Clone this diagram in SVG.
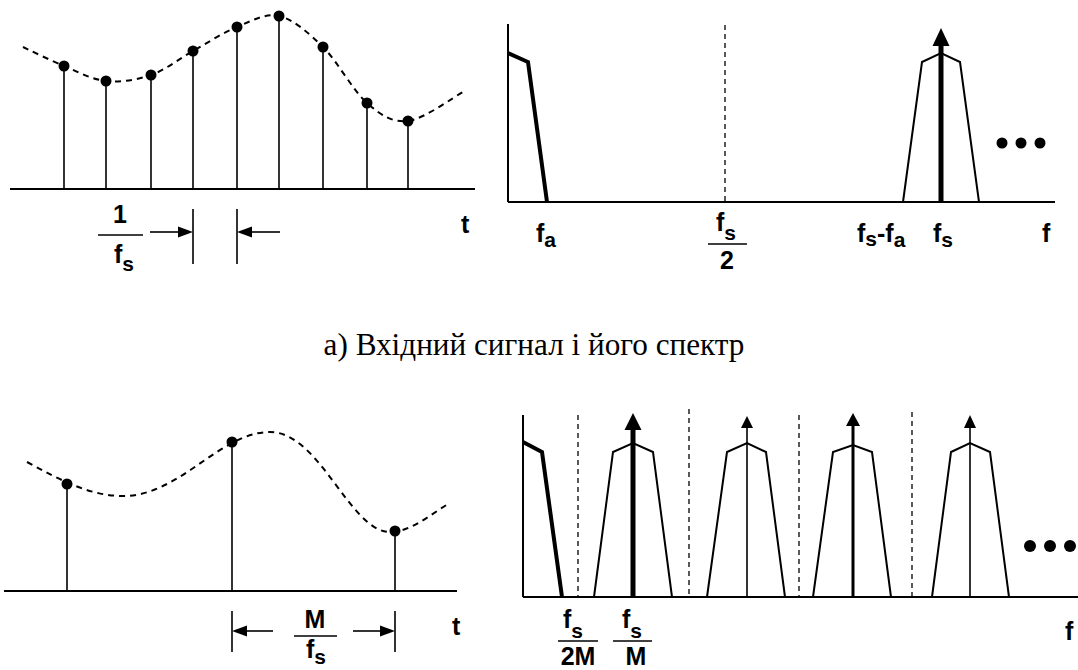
<svg xmlns="http://www.w3.org/2000/svg" width="1078" height="670" viewBox="0 0 1078 670">
<style>
.ax{stroke:#000;stroke-width:2;fill:none}
.stem{stroke:#000;stroke-width:1.6;fill:none}
.curve{stroke:#000;stroke-width:2;fill:none;stroke-dasharray:6 5}
.dash{stroke:#000;stroke-width:1.3;fill:none;stroke-dasharray:5 4}
.img{stroke:#000;stroke-width:2;fill:none;stroke-linejoin:miter}
.bb{stroke:#000;stroke-width:4;fill:none}
.lbl{font-family:"Liberation Sans",Arial,sans-serif;font-weight:bold;font-size:25px;fill:#000}
.sub{font-size:21px}
.cap{font-family:"Liberation Serif","Times New Roman",serif;font-size:31.2px;fill:#000}
</style>
<rect width="1078" height="670" fill="#fff"/>

<g id="input-signal">
<line class="ax" x1="10" y1="189" x2="475" y2="189"/>
<path class="curve" d="M23,47 C29.8,50.2 50.2,60.3 64,66 C77.8,71.7 91.5,79.5 106,81 C120.5,82.5 136.5,80 151,75 C165.5,70 178.7,59 193,51 C207.3,43 222.7,32.8 237,27 C251.3,21.2 264.7,12.7 279,16 C293.3,19.3 308.3,32.5 323,47 C337.7,61.5 352.8,90.7 367,103 C381.2,115.3 392,122.8 408,121 C424,119.2 453.8,96.8 463,92"/>
<g class="stem">
<line x1="64" y1="189" x2="64" y2="66"/>
<line x1="106" y1="189" x2="106" y2="81"/>
<line x1="151" y1="189" x2="151" y2="75"/>
<line x1="193" y1="189" x2="193" y2="51"/>
<line x1="237" y1="189" x2="237" y2="27"/>
<line x1="279" y1="189" x2="279" y2="16"/>
<line x1="323" y1="189" x2="323" y2="47"/>
<line x1="367" y1="189" x2="367" y2="103"/>
<line x1="408" y1="189" x2="408" y2="121"/>
</g>
<g fill="#000">
<circle cx="64" cy="66" r="5.5"/>
<circle cx="106" cy="81" r="5.5"/>
<circle cx="151" cy="75" r="5.5"/>
<circle cx="193" cy="51" r="5.5"/>
<circle cx="237" cy="27" r="5.5"/>
<circle cx="279" cy="16" r="5.5"/>
<circle cx="323" cy="47" r="5.5"/>
<circle cx="367" cy="103" r="5.5"/>
<circle cx="408" cy="121" r="5.5"/>
</g>
</g>

<g id="input-period">
<line class="stem" x1="193" y1="209" x2="193" y2="264"/>
<line class="stem" x1="237" y1="209" x2="237" y2="264"/>
<line class="stem" x1="150" y1="232" x2="180" y2="232"/>
<polygon points="193,232 178,226.5 178,237.5" fill="#000"/>
<line class="stem" x1="280" y1="232" x2="250" y2="232"/>
<polygon points="237,232 252,226.5 252,237.5" fill="#000"/>
<text class="lbl" x="120" y="223" text-anchor="middle" font-size="28">1</text>
<line x1="98" y1="235" x2="143" y2="235" stroke="#000" stroke-width="1.6"/>
<text class="lbl" x="114" y="263">f<tspan class="sub" dy="8">s</tspan></text>
<text class="lbl" x="461" y="233" font-size="27">t</text>
</g>

<g id="input-spectrum">
<line class="ax" x1="508" y1="24" x2="508" y2="202"/>
<line class="ax" x1="508" y1="202" x2="1055" y2="202"/>
<polyline class="bb" points="508,53 528,62 547,202"/>
<line class="dash" x1="725" y1="25" x2="725" y2="202"/>
<polyline class="img" points="903,202 922,62 941,53 960,62 979,202"/>
<line x1="941" y1="202" x2="941" y2="44" stroke="#000" stroke-width="5"/>
<polygon points="941,28 932.5,46 949.5,46" fill="#000"/>
<g fill="#000">
<circle cx="1002" cy="143" r="5.5"/>
<circle cx="1021" cy="143" r="5.5"/>
<circle cx="1040" cy="143" r="5.5"/>
</g>
<text class="lbl" x="536" y="242">f<tspan class="sub" dy="5">a</tspan></text>
<text class="lbl" x="716" y="231">f<tspan class="sub" dy="9">s</tspan></text>
<line x1="708" y1="244" x2="747" y2="244" stroke="#000" stroke-width="1.6"/>
<text class="lbl" x="727" y="269" text-anchor="middle">2</text>
<text class="lbl" x="857" y="242">f<tspan class="sub" dy="4">s</tspan><tspan dy="-4">-</tspan>f<tspan class="sub" dy="5">a</tspan></text>
<text class="lbl" x="933" y="242">f<tspan class="sub" dy="5">s</tspan></text>
<text class="lbl" x="1042" y="242">f</text>
</g>

<g id="caption">
<text class="cap" x="534" y="355" text-anchor="middle">а) Вхідний сигнал і його спектр</text>
</g>

<g id="decimated-signal">
<line class="ax" x1="4" y1="591" x2="457" y2="591"/>
<path class="curve" d="M27,462 C60,480 90,496 123,496 C180,496 220,432 270,432 C320,432 350,532 390,532 C410,532 430,515 448,504"/>
<g class="stem">
<line x1="67" y1="591" x2="67" y2="484"/>
<line x1="232" y1="591" x2="232" y2="442"/>
<line x1="395" y1="591" x2="395" y2="531"/>
</g>
<g fill="#000">
<circle cx="67" cy="484" r="5.5"/>
<circle cx="232" cy="442" r="5.5"/>
<circle cx="395" cy="531" r="5.5"/>
</g>
</g>

<g id="decimated-period">
<line class="stem" x1="232" y1="611" x2="232" y2="652"/>
<line class="stem" x1="395" y1="611" x2="395" y2="652"/>
<line class="stem" x1="273" y1="631" x2="245" y2="631"/>
<polygon points="232,631 247,625.5 247,636.5" fill="#000"/>
<line class="stem" x1="353" y1="631" x2="382" y2="631"/>
<polygon points="395,631 380,625.5 380,636.5" fill="#000"/>
<text class="lbl" x="315" y="628" text-anchor="middle" font-size="24">M</text>
<line x1="294" y1="636" x2="337" y2="636" stroke="#000" stroke-width="1.6"/>
<text class="lbl" x="306" y="658">f<tspan class="sub" dy="6">s</tspan></text>
<text class="lbl" x="452" y="635" font-size="27">t</text>
</g>

<g id="decimated-spectrum">
<line class="ax" x1="523" y1="415" x2="523" y2="597"/>
<line class="ax" x1="523" y1="597" x2="1078" y2="597"/>
<polyline class="bb" points="523,442 542,452 562,597"/>
<line class="dash" x1="578" y1="415" x2="578" y2="597"/>
<line class="dash" x1="689" y1="409" x2="689" y2="597"/>
<line class="dash" x1="799" y1="415" x2="799" y2="597"/>
<line class="dash" x1="912" y1="412" x2="912" y2="597"/>
<polyline class="img" points="594,597 613,452 633,443 653,452 672,597"/>
<polyline class="img" points="707,597 727,452 747,443 766,452 785,597"/>
<polyline class="img" points="813,597 833,452 853,445 872,452 891,597"/>
<polyline class="img" points="932,597 951,452 970,443 990,452 1009,597"/>
<line x1="633" y1="597" x2="633" y2="428" stroke="#000" stroke-width="5"/>
<polygon points="633,413 624.5,430 641.5,430" fill="#000"/>
<line x1="747" y1="597" x2="747" y2="426" stroke="#000" stroke-width="1.6"/>
<polygon points="747,416 741,428 753,428" fill="#000"/>
<line x1="853" y1="597" x2="853" y2="424" stroke="#000" stroke-width="3"/>
<polygon points="853,413 846,426 860,426" fill="#000"/>
<line x1="970" y1="597" x2="970" y2="426" stroke="#000" stroke-width="1.6"/>
<polygon points="970,415 964,428 976,428" fill="#000"/>
<g fill="#000">
<circle cx="1030" cy="546" r="6"/>
<circle cx="1050" cy="546" r="6"/>
<circle cx="1070" cy="546" r="6"/>
</g>
<text class="lbl" x="563" y="628">f<tspan class="sub" dy="10">s</tspan></text>
<line x1="558" y1="641" x2="598" y2="641" stroke="#000" stroke-width="1.6"/>
<text class="lbl" x="578" y="665" text-anchor="middle">2M</text>
<text class="lbl" x="622" y="628">f<tspan class="sub" dy="10">s</tspan></text>
<line x1="613" y1="641" x2="652" y2="641" stroke="#000" stroke-width="1.6"/>
<text class="lbl" x="636" y="665" text-anchor="middle">M</text>
<text class="lbl" x="1065" y="640" font-size="27">f</text>
</g>
</svg>
